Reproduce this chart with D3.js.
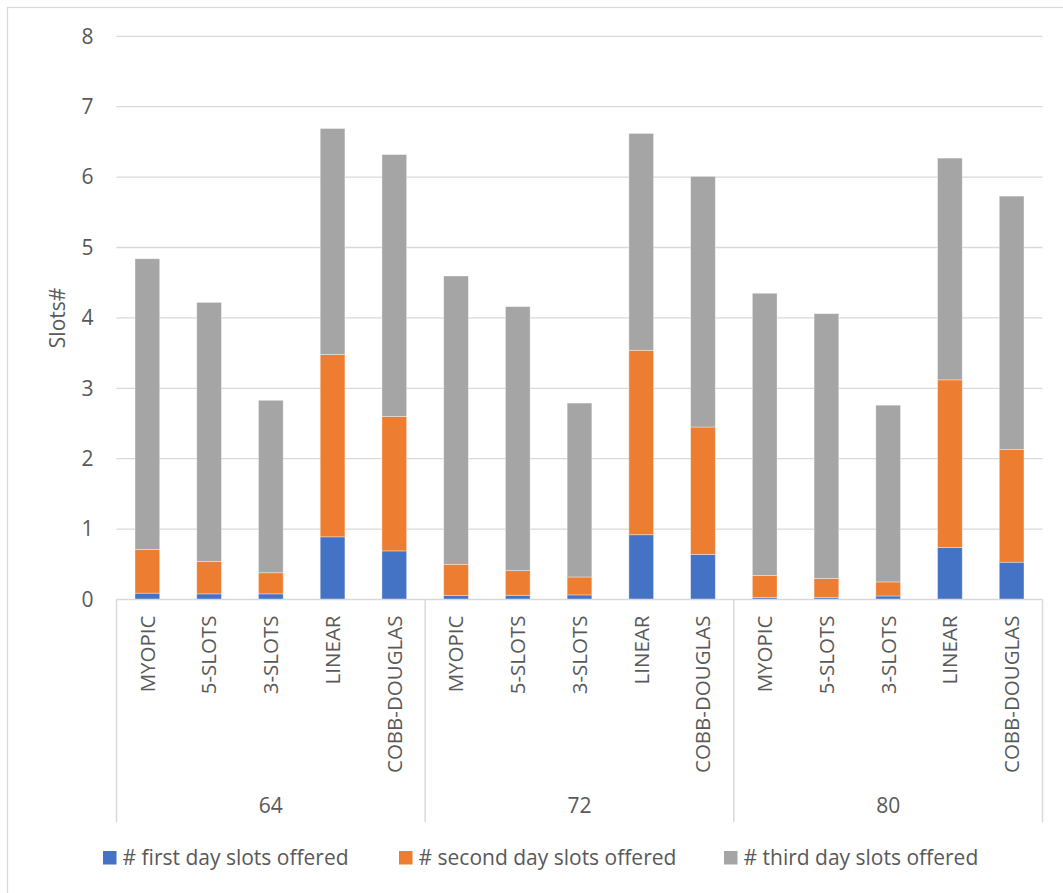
<!DOCTYPE html>
<html>
<head>
<meta charset="utf-8">
<script src="https://cdn.jsdelivr.net/npm/d3@7"></script>
<style>
  html, body { margin: 0; padding: 0; background: #fff; }
  svg text { font-family: "Open Sans", "Noto Sans", sans-serif; fill: #595959; }
</style>
</head>
<body>
<svg id="chart" width="1063" height="893"></svg>
<script>
// Grouped categories: number of requests (outer) and policy (inner)
const groups = ["64", "72", "80"];
const methods = ["MYOPIC", "5-SLOTS", "3-SLOTS", "LINEAR", "COBB-DOUGLAS"];
const seriesNames = ["# first day slots offered", "# second day slots offered", "# third day slots offered"];
const seriesColors = ["#4472C4", "#ED7D31", "#A5A5A5"];
const yTicks = [0, 1, 2, 3, 4, 5, 6, 7, 8];

// Values per group, in method order
const firstDay = {
  "64": [0.09, 0.08, 0.08, 0.89, 0.69],
  "72": [0.055, 0.06, 0.065, 0.92, 0.64],
  "80": [0.03, 0.03, 0.05, 0.74, 0.53]
};
const secondDay = {
  "64": [0.62, 0.46, 0.30, 2.59, 1.91],
  "72": [0.445, 0.35, 0.255, 2.62, 1.81],
  "80": [0.31, 0.27, 0.20, 2.38, 1.60]
};
const thirdDay = {
  "64": [4.13, 3.68, 2.45, 3.21, 3.72],
  "72": [4.095, 3.75, 2.47, 3.08, 3.56],
  "80": [4.01, 3.76, 2.51, 3.15, 3.60]
};

const rows = [];
groups.forEach(g => methods.forEach((m, i) => {
  rows.push({ group: g, method: m, s0: firstDay[g][i], s1: secondDay[g][i], s2: thirdDay[g][i] });
}));

const svg = d3.select("#chart");
const plot = { left: 116.5, right: 1042.5, top: 36.3, bottom: 599.5 };
const gridColor = "#D9D9D9";

// chart frame
svg.append("rect")
  .attr("x", 7.5).attr("y", 7.5).attr("width", 1200).attr("height", 1000)
  .attr("fill", "none").attr("stroke", gridColor).attr("stroke-width", 1.2);

const y = d3.scaleLinear().domain([0, 8]).range([plot.bottom, plot.top]);
const xGroup = d3.scaleBand().domain(groups).range([plot.left, plot.right]).padding(0);
const xInner = d3.scaleBand().domain(methods).range([0, xGroup.bandwidth()])
  .paddingInner(0.6).paddingOuter(0.3);

// horizontal gridlines
svg.append("g").selectAll("line").data(yTicks.filter(t => t > 0)).join("line")
  .attr("x1", plot.left).attr("x2", plot.right)
  .attr("y1", d => y(d)).attr("y2", d => y(d))
  .attr("stroke", gridColor).attr("stroke-width", 1.3);

// value axis labels
const yAxis = svg.append("g").attr("transform", `translate(${plot.left - 23},0)`)
  .call(d3.axisLeft(y).tickValues(yTicks).tickSize(0).tickPadding(0).tickFormat(d3.format("d")));
yAxis.select(".domain").remove();
yAxis.selectAll("text").style("font-size", "21px").attr("fill", "#595959")
  .style("font-family", "'Open Sans', sans-serif");

// axis title
svg.append("text")
  .attr("transform", `translate(58,${(plot.top + plot.bottom) / 2}) rotate(-90)`)
  .attr("text-anchor", "middle").attr("dy", "0.35em")
  .style("font-size", "21px").text("Slots#");

// stacked bars
const stack = d3.stack().keys(["s0", "s1", "s2"]);
const layers = stack(rows);
svg.append("g").selectAll("g").data(layers).join("g")
  .attr("fill", (d, i) => seriesColors[i])
  .selectAll("rect").data(d => d).join("rect")
  .attr("x", d => xGroup(d.data.group) + xInner(d.data.method))
  .attr("width", xInner.bandwidth())
  .attr("y", d => y(d[1]))
  .attr("height", d => y(d[0]) - y(d[1]))
  .attr("stroke", "#ffffff").attr("stroke-opacity", 0.45).attr("stroke-width", 0.8);

// category axis baseline and group dividers
svg.append("line")
  .attr("x1", plot.left).attr("x2", plot.right)
  .attr("y1", plot.bottom).attr("y2", plot.bottom)
  .attr("stroke", gridColor).attr("stroke-width", 1.5);
const dividerBottom = 822;
const dividers = groups.map(g => xGroup(g)).concat([xGroup(groups[groups.length - 1]) + xGroup.bandwidth()]);
svg.append("g").selectAll("line").data(dividers).join("line")
  .attr("x1", d => d).attr("x2", d => d)
  .attr("y1", plot.bottom).attr("y2", dividerBottom)
  .attr("stroke", gridColor).attr("stroke-width", 1.5);

// inner category labels (rotated)
svg.append("g").selectAll("text").data(rows).join("text")
  .attr("transform", d => `translate(${xGroup(d.group) + xInner(d.method) + xInner.bandwidth() / 2},${plot.bottom + 16}) rotate(-90)`)
  .attr("text-anchor", "end").attr("dy", "0.36em")
  .style("font-size", "20.5px").text(d => d.method);

// outer group labels
svg.append("g").selectAll("text").data(groups).join("text")
  .attr("x", d => xGroup(d) + xGroup.bandwidth() / 2)
  .attr("y", 806).attr("dy", "0.35em").attr("text-anchor", "middle")
  .style("font-size", "21px").text(d => d);

// legend
const legendX = [103, 399, 724];
const legend = svg.append("g").selectAll("g").data(seriesNames).join("g")
  .attr("transform", (d, i) => `translate(${legendX[i]},851)`);
legend.append("rect").attr("width", 13.5).attr("height", 13.5)
  .attr("fill", (d, i) => seriesColors[i]);
legend.append("text").attr("x", 19.5).attr("y", 14)
  .style("font-size", "21px").text(d => d);
</script>
</body>
</html>
